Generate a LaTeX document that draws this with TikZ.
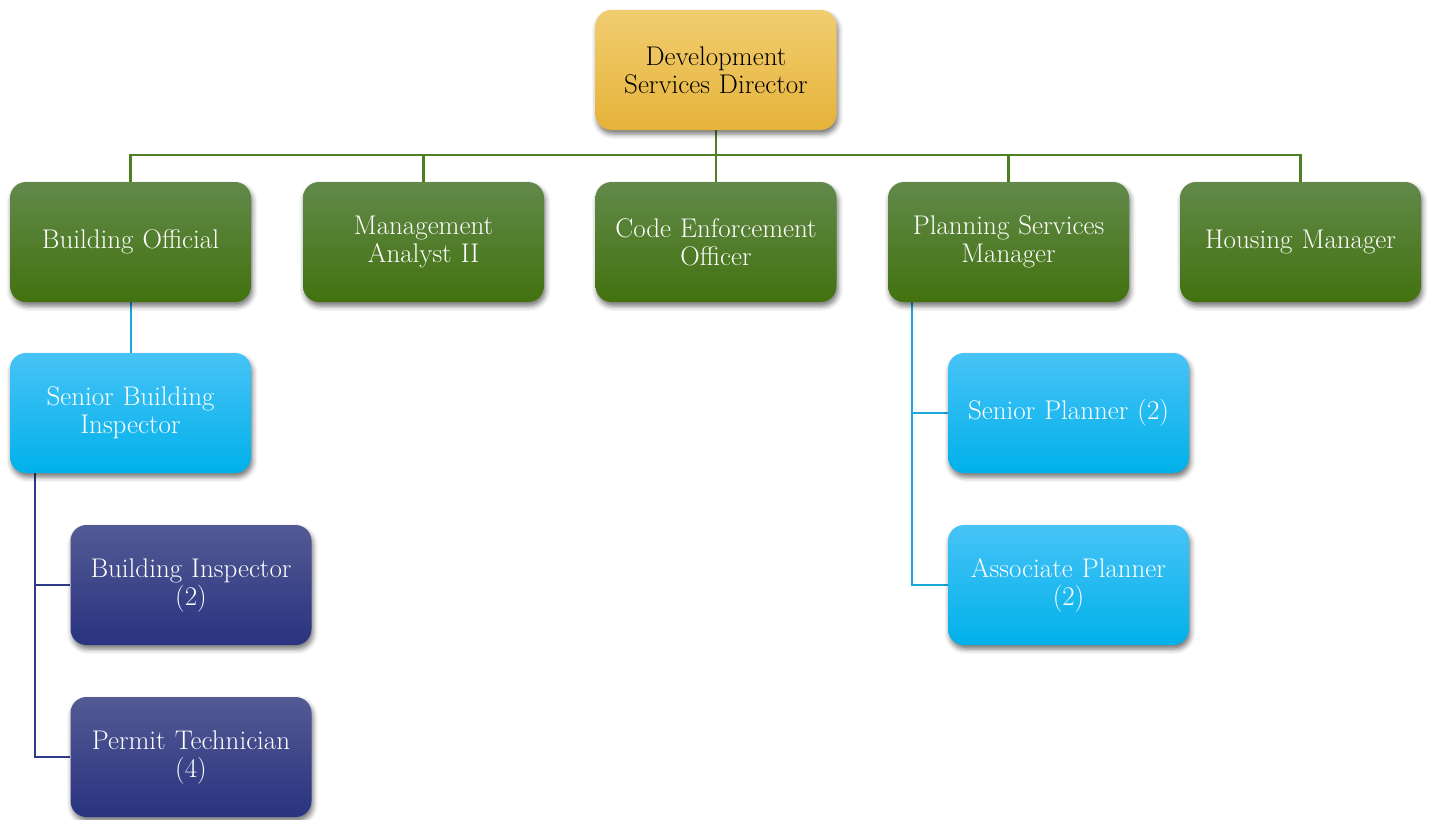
\documentclass[tikz,border=0pt]{standalone}
\usetikzlibrary{shadows.blur,backgrounds}
\definecolor{goldT}{HTML}{F1CD70}
\definecolor{goldM}{HTML}{F4C64A}
\definecolor{goldB}{HTML}{E6B33A}
\definecolor{grnT}{HTML}{62894A}
\definecolor{grnM}{HTML}{4A7B1C}
\definecolor{grnB}{HTML}{42720F}
\definecolor{skyT}{HTML}{47C3F7}
\definecolor{skyM}{HTML}{00BEF6}
\definecolor{skyB}{HTML}{00B1E9}
\definecolor{navT}{HTML}{535A94}
\definecolor{navM}{HTML}{2F3B88}
\definecolor{navB}{HTML}{29337F}
\definecolor{grnLine}{HTML}{4E7F22}
\definecolor{skyLine}{HTML}{1BA8DA}
\definecolor{navLine}{HTML}{2E3A87}
\tikzset{
  card/.style={rectangle, rounded corners=16pt, minimum width=241pt, minimum height=120pt,
    align=center, text width=237pt, inner sep=0pt,
    font=\fontsize{27}{28}\selectfont,
    blur shadow={shadow xshift=1.5pt, shadow yshift=-4pt, shadow blur radius=5pt, shadow opacity=55}},
  goldcard/.style={card, top color=goldT, middle color=goldM, bottom color=goldB, text=black},
  greencard/.style={card, top color=grnT, middle color=grnM, bottom color=grnB, text=white},
  skycard/.style={card, top color=skyT, middle color=skyM, bottom color=skyB, text=white},
  navycard/.style={card, top color=navT, middle color=navM, bottom color=navB, text=white},
  greenline/.style={draw=grnLine, line width=2.5pt},
  skyline/.style={draw=skyLine, line width=2pt},
  navyline/.style={draw=navLine, line width=2pt},
}
\begin{document}
\begin{tikzpicture}[x=1pt,y=-1pt]
\useasboundingbox (0,0) rectangle (1429,819);

% director
\node[goldcard] (dir) at (716,70) {Development\\Services Director};

% second level
\node[greencard] (bo) at (130.5,242) {Building Official};
\node[greencard] (ma) at (423.5,242) {Management\\Analyst II};
\node[greencard] (ce) at (716,242) {Code Enforcement\\Officer};
\node[greencard] (ps) at (1008.5,242) {Planning Services\\Manager};
\node[greencard] (hm) at (1300.5,242) {Housing Manager};

% building branch
\node[skycard] (sbi) at (130.5,413) {Senior Building\\Inspector};
\node[navycard] (bi) at (191,585) {Building Inspector\\(2)};
\node[navycard] (pt) at (191,757) {Permit Technician\\(4)};

% planning branch
\node[skycard] (sp) at (1068.5,413) {Senior Planner (2)};
\node[skycard] (ap) at (1068.5,585) {Associate Planner\\(2)};

\begin{scope}[on background layer]
  % director to department heads
  \coordinate (bus) at (716,155);
  \draw[greenline] (dir.south) -- (bus);
  \draw[greenline, line cap=rect] (bus -| bo.north) -- (bus -| hm.north);
  \foreach \n in {bo,ma,ce,ps,hm}
    \draw[greenline] (bus -| \n.north) -- (\n.north);

  % building official to senior inspector
  \draw[skyline] (bo.south) -- (sbi.south |- sbi.north);

  % senior inspector to staff
  \coordinate (sbiTap) at ([xshift=25pt]sbi.south west);
  \draw[navyline] (sbiTap) |- (pt.west);
  \draw[navyline] (sbiTap |- bi.west) -- (bi.west);

  % planning manager to planners
  \coordinate (psTap) at ([xshift=24pt]ps.south west);
  \draw[skyline] (psTap) |- (ap.west);
  \draw[skyline] (psTap |- sp.west) -- (sp.west);
\end{scope}
\end{tikzpicture}
\end{document}
